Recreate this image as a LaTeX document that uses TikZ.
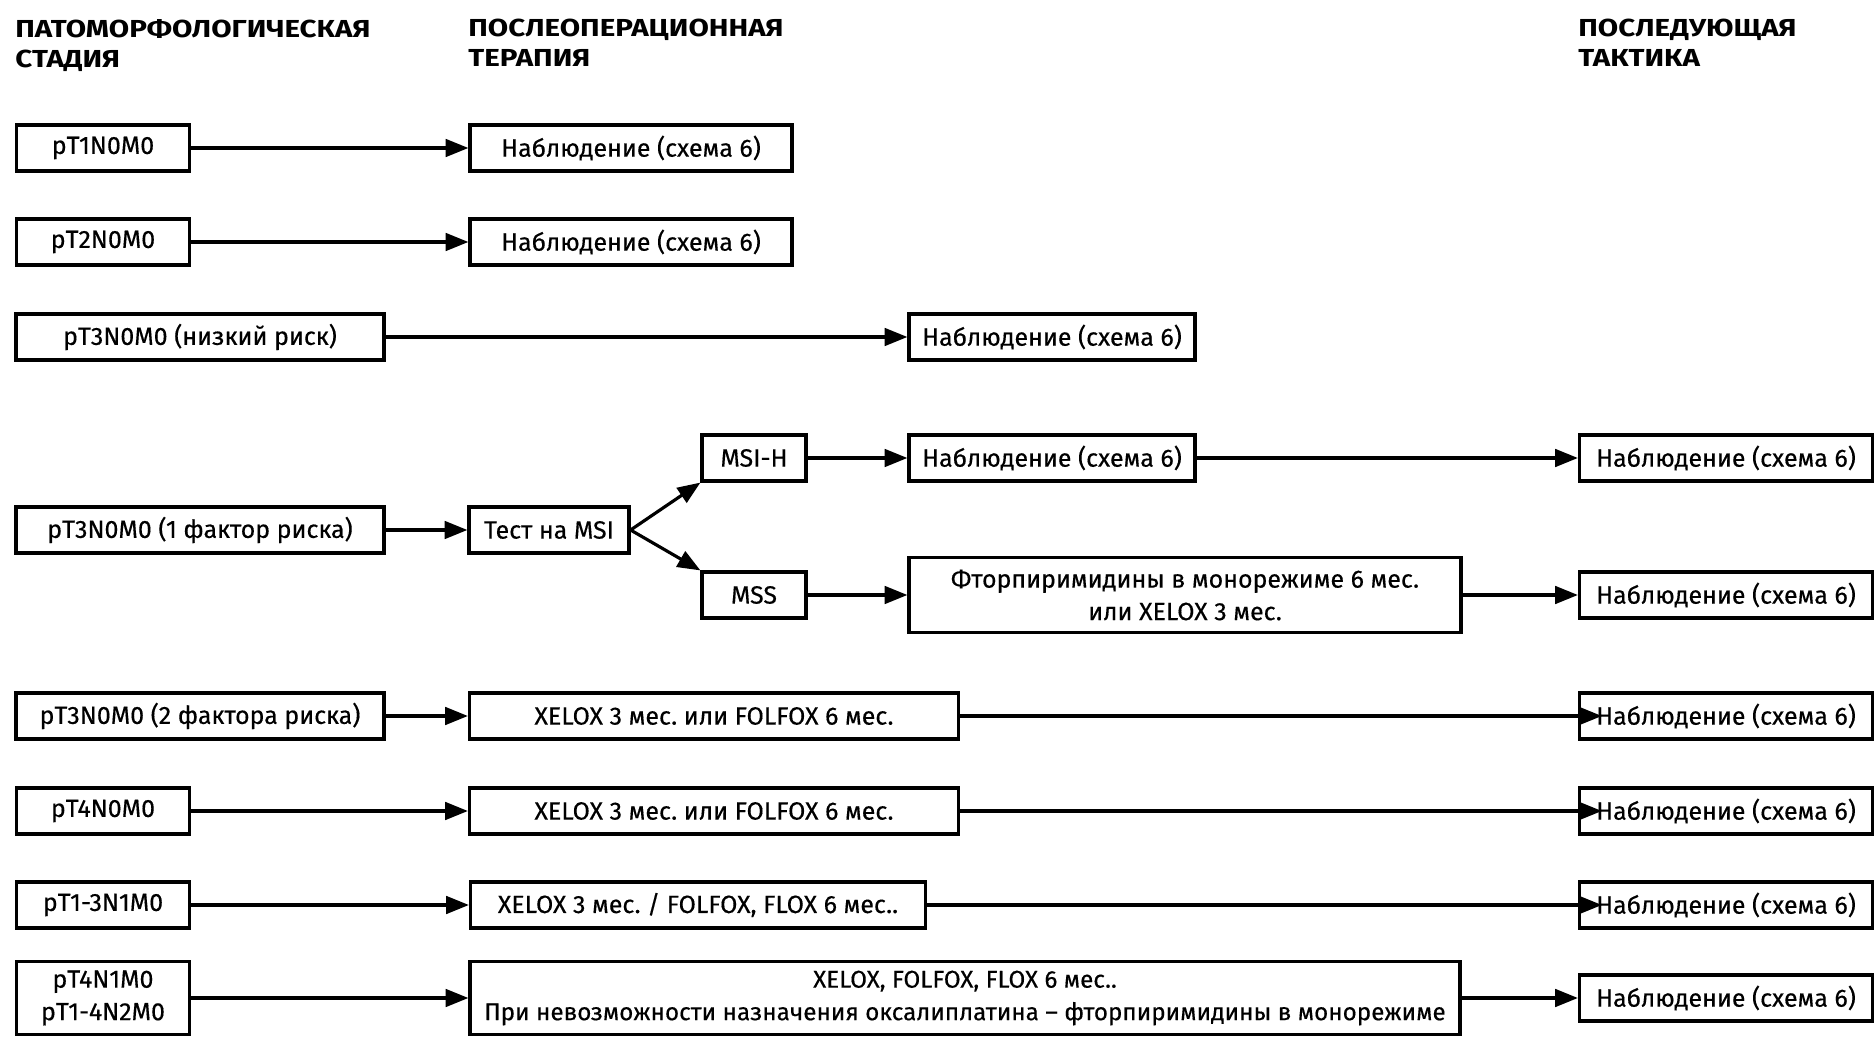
\documentclass[tikz,border=0pt]{standalone}
\usepackage{fontspec}
\setmainfont{Fira Sans}[FakeBold=0.4]
\newfontfamily\headfont{Fira Sans}[FakeStretch=1.2]
\usetikzlibrary{positioning, arrows.meta}

\begin{document}
\frenchspacing
\begin{tikzpicture}[x=0.2mm, y=-0.2mm,
    box/.style={rectangle, draw, line width=1.8pt, inner sep=2pt,
      align=center, minimum height=9.2mm,
      font=\fontsize{14.2}{18.5}\selectfont},
    head/.style={anchor=north west, inner sep=0pt, align=left,
      font=\headfont\bfseries\fontsize{14}{17}\selectfont},
    arr/.style={-{Triangle[length=13pt, width=10pt]}, line width=1.8pt}]

    \useasboundingbox (0,0) rectangle (1875,1038);

    \node[head] (h1) at (15,19) {ПАТОМОРФОЛОГИЧЕСКАЯ\\СТАДИЯ};
    \node[head] (h2) at (468,19) {ПОСЛЕОПЕРАЦИОННАЯ\\ТЕРАПИЯ};
    \node[head] (h3) at (1578,19) {ПОСЛЕДУЮЩАЯ\\ТАКТИКА};

    \node[box, minimum width=34.6mm] (st1) at (103,148) {pT1N0M0};
    \node[box, minimum width=34.6mm] (st2) at (103,242) {pT2N0M0};
    \node[box, minimum width=73.6mm] (st3) at (200,337) {pT3N0M0 (низкий риск)};
    \node[box, minimum width=73.6mm] (st4) at (200,530) {pT3N0M0 (1 фактор риска)};
    \node[box, minimum width=73.6mm] (st5) at (200,716) {pT3N0M0 (2 фактора риска)};
    \node[box, minimum width=34.6mm] (st6) at (103,811) {pT4N0M0};
    \node[box, minimum width=34.6mm] (st7) at (103,905) {pT1-3N1M0};
    \node[box, minimum width=34.6mm,
      minimum height=14.6mm] (st8) at (103,998) {pT4N1M0\\pT1-4N2M0};

    \node[box, minimum width=64.4mm] (th1) at (631,148) {Наблюдение (схема 6)};
    \node[box, minimum width=64.4mm] (th2) at (631,242) {Наблюдение (схема 6)};
    \node[box, minimum width=57.2mm] (th3) at (1052,337) {Наблюдение (схема 6)};

    \node[box, minimum width=32mm] (msi) at (549,530) {Тест на MSI};
    \node[box, minimum width=20.8mm] (msih) at (754,458) {MSI-H};
    \node[box, minimum width=20.8mm] (mss) at (754,595) {MSS};

    \node[box, minimum width=57.2mm] (th4) at (1052,458) {Наблюдение (схема 6)};
    \node[box, minimum width=110.4mm,
      minimum height=15mm] (th5) at (1185,595)
      {Фторпиримидины в монорежиме 6 мес.\\или XELOX 3 мес.};

    \node[box, minimum width=97.8mm] (th6) at (714,716) {XELOX 3 мес. или FOLFOX 6 мес.};
    \node[box, minimum width=97.8mm] (th7) at (714,811) {XELOX 3 мес. или FOLFOX 6 мес.};
    \node[box, minimum width=91mm] (th8) at (698,905) {XELOX 3 мес. / FOLFOX, FLOX 6 мес..};
    \node[box, minimum width=198mm,
      minimum height=14.6mm,
      font=\fontsize{13.8}{18.5}\selectfont] (th9) at (965,998)
      {XELOX, FOLFOX, FLOX 6 мес..\\При невозможности назначения оксалиплатина – фторпиримидины в монорежиме};

    \node[box, minimum width=58.6mm] (fu4) at (1726,458) {Наблюдение (схема 6)};
    \node[box, minimum width=58.6mm] (fu5) at (1726,595) {Наблюдение (схема 6)};
    \node[box, minimum width=58.6mm] (fu6) at (1726,716) {Наблюдение (схема 6)};
    \node[box, minimum width=58.6mm] (fu7) at (1726,811) {Наблюдение (схема 6)};
    \node[box, minimum width=58.6mm] (fu8) at (1726,905) {Наблюдение (схема 6)};
    \node[box, minimum width=58.6mm] (fu9) at (1726,998) {Наблюдение (схема 6)};

    \draw[arr] (st1)--(th1);
    \draw[arr] (st2)--(th2);
    \draw[arr] (st3)--(th3);
    \draw[arr] (st4)--(msi);
    \draw[arr] (msi.east)--(msih.south west);
    \draw[arr] (msi.east)--(mss.north west);
    \draw[arr] (msih)--(th4);
    \draw[arr] (mss)--(th5);
    \draw[arr] (th4)--(fu4);
    \draw[arr] (th5)--(fu5);

    \draw[arr] (st5)--(th6);
    \draw[arr] (st6)--(th7);
    \draw[arr] (st7)--(th8);
    \draw[arr] (st8)--(th9);

    \draw[arr] (th6.east)--([xshift=4.8mm]fu6.west);
    \draw[arr] (th7.east)--([xshift=4.8mm]fu7.west);
    \draw[arr] (th8.east)--([xshift=4.8mm]fu8.west);
    \draw[arr] (th9)--(fu9);
\end{tikzpicture}
\end{document}
